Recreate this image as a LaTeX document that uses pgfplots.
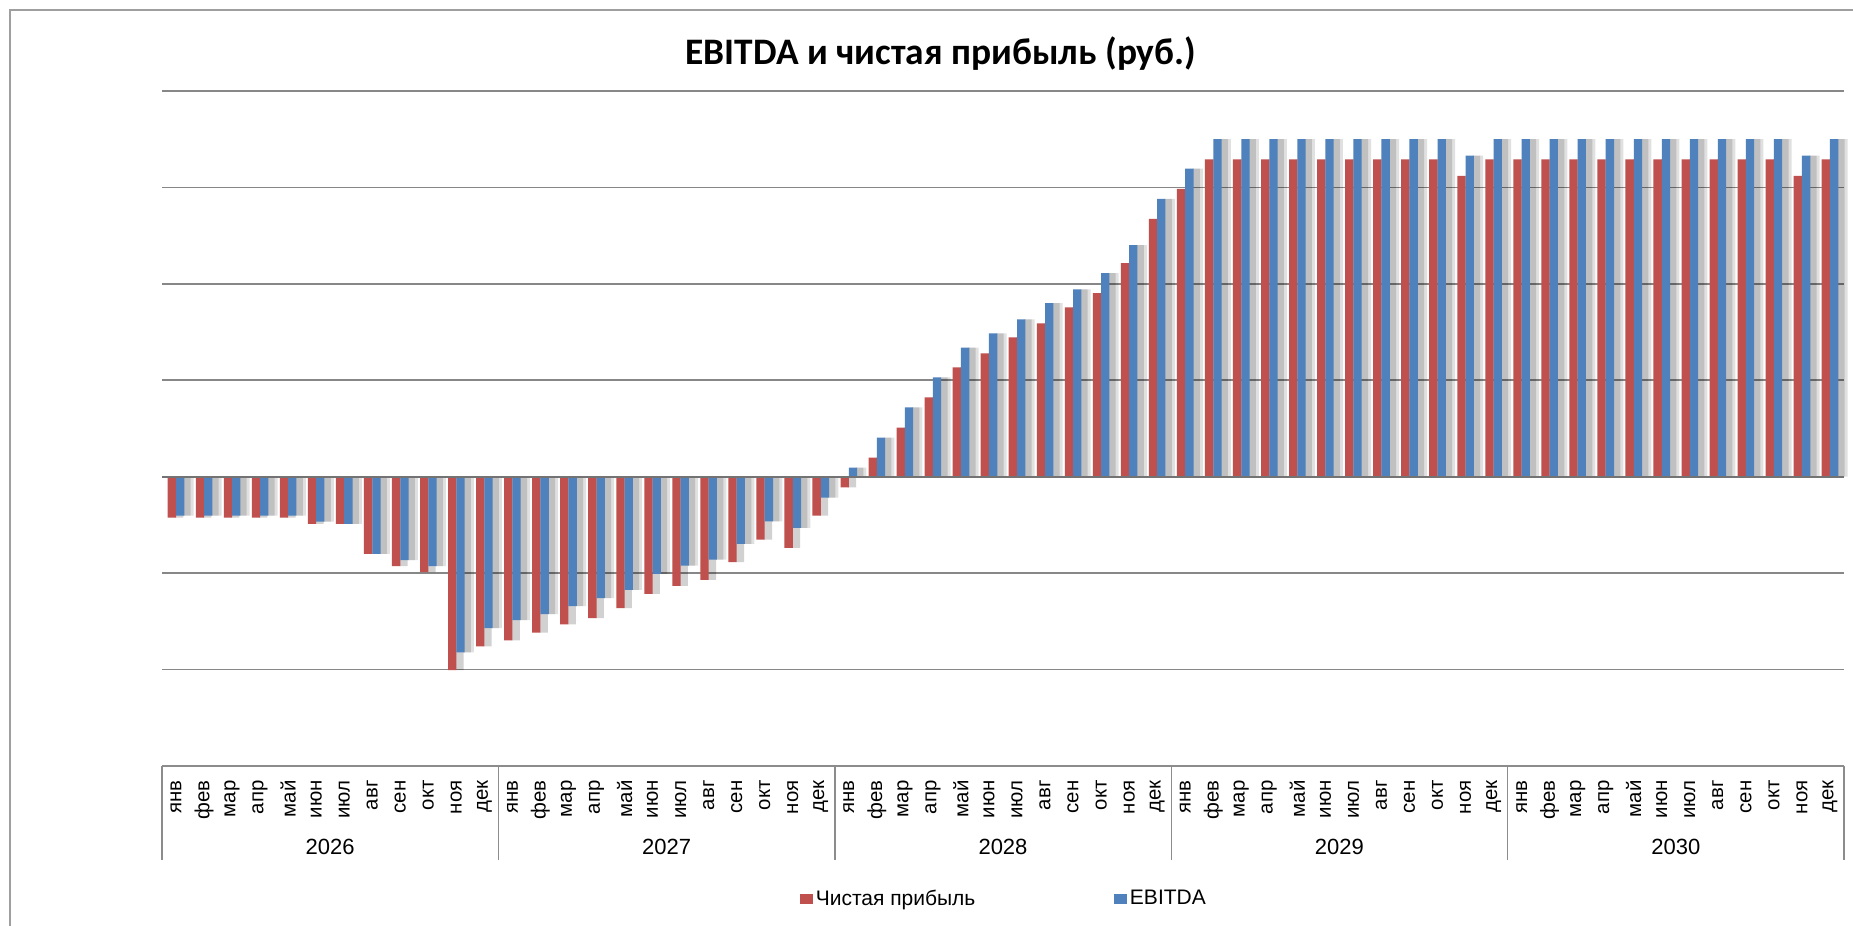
\documentclass[border=0pt]{standalone}
\usepackage{fontspec}
\setmainfont{Liberation Sans}
\newfontfamily\titlefont{Carlito}
\usepackage{pgfplots}
\usepackage{pgfplotstable}
\pgfplotsset{compat=1.18}
\definecolor{npred}{HTML}{C0504D}
\definecolor{ebblue}{HTML}{4F81BD}
\definecolor{gridgray}{HTML}{878787}
\definecolor{zerogray}{HTML}{737373}
\definecolor{sepgray}{HTML}{8C8C8C}

\pgfplotstableread{
x np eb
0 -0.425 -0.404
1 -0.425 -0.404
2 -0.425 -0.404
3 -0.425 -0.404
4 -0.425 -0.404
5 -0.488 -0.467
6 -0.488 -0.488
7 -0.801 -0.801
8 -0.927 -0.864
9 -0.990 -0.927
10 -2.007 -1.822
11 -1.760 -1.571
12 -1.697 -1.488
13 -1.617 -1.425
14 -1.530 -1.341
15 -1.467 -1.258
16 -1.362 -1.174
17 -1.216 -1.007
18 -1.132 -0.923
19 -1.070 -0.861
20 -0.885 -0.697
21 -0.652 -0.463
22 -0.739 -0.530
23 -0.404 -0.216
24 -0.111 0.094
25 0.198 0.406
26 0.510 0.719
27 0.823 1.031
28 1.135 1.340
29 1.278 1.486
30 1.444 1.632
31 1.590 1.799
32 1.757 1.944
33 1.903 2.111
34 2.215 2.403
35 2.674 2.882
36 2.986 3.194
37 3.290 3.500
38 3.290 3.500
39 3.290 3.500
40 3.290 3.500
41 3.290 3.500
42 3.290 3.500
43 3.290 3.500
44 3.290 3.500
45 3.290 3.500
46 3.120 3.330
47 3.290 3.500
48 3.290 3.500
49 3.290 3.500
50 3.290 3.500
51 3.290 3.500
52 3.290 3.500
53 3.290 3.500
54 3.290 3.500
55 3.290 3.500
56 3.290 3.500
57 3.290 3.500
58 3.120 3.330
59 3.290 3.500
}\datatable

\begin{document}
\begin{tikzpicture}
\useasboundingbox (0pt,0pt) rectangle (926.5pt,463pt);
\fill[white] (0pt,0pt) rectangle (926.5pt,463pt);
\draw[gray!75, line width=0.8pt] (5pt,-20pt) rectangle (960pt,458pt);
\node[font=\titlefont\bfseries\fontsize{18.7}{22}\selectfont] at (470.4pt,436pt) {EBITDA и чистая прибыль (руб.)};
\begin{axis}[
  at={(81pt,80pt)}, anchor=south west,
  scale only axis, width=841pt, height=337.5pt,
  xmin=-0.5, xmax=59.5, ymin=-3, ymax=4,
  clip=false,
  axis line style={draw=none},
  xtick={0,...,59},
  xticklabels={янв,фев,мар,апр,май,июн,июл,авг,сен,окт,ноя,дек,
               янв,фев,мар,апр,май,июн,июл,авг,сен,окт,ноя,дек,
               янв,фев,мар,апр,май,июн,июл,авг,сен,окт,ноя,дек,
               янв,фев,мар,апр,май,июн,июл,авг,сен,окт,ноя,дек,
               янв,фев,мар,апр,май,июн,июл,авг,сен,окт,ноя,дек},
  xticklabel style={rotate=90, anchor=east, inner sep=0pt, font=\fontsize{10.2}{12}\selectfont},
  xticklabel shift=7pt,
  ytick={-2,-1,0,1,2,3,4},
  yticklabels={},
  tick style={draw=none},
  major tick length=0pt,
  ymajorgrids,
  major grid style={gridgray, line width=0.8pt},
  legend columns=2,
  legend style={at={(0.5009,-0.197)}, anchor=center, draw=none, fill=none,
    font=\fontsize{10.5}{12}\selectfont,
    /tikz/every even column/.append style={column sep=68pt},
    nodes={inner sep=1.5pt}},
  legend image code/.code={\fill[#1] (0pt,-2.3pt) rectangle (6.3pt,2.3pt);},
]
% shadows
\addplot[ybar, bar width=4.15pt, bar shift=1.6pt, fill=black, fill opacity=0.18, draw=none, forget plot] table[x=x,y=np]{\datatable};
\addplot[ybar, bar width=5.2pt, bar shift=6.2pt, fill=black, fill opacity=0.12, draw=none, forget plot] table[x=x,y=eb]{\datatable};
\addplot[ybar, bar width=3.4pt, bar shift=5.6pt, fill=black, fill opacity=0.14, draw=none, forget plot] table[x=x,y=eb]{\datatable};
% bars
\addplot[ybar, bar width=4.15pt, bar shift=-2.075pt, fill=npred, draw=none] table[x=x,y=np]{\datatable};
\addlegendentry{Чистая прибыль}
\addplot[ybar, bar width=4.15pt, bar shift=2.075pt, fill=ebblue, draw=none] table[x=x,y=eb]{\datatable};
\addlegendentry{EBITDA}
\draw[zerogray, line width=0.9pt] (axis cs:-0.5,0) -- (axis cs:59.5,0);
\draw[sepgray, line width=0.7pt] (axis cs:-0.5,-3) -- (axis cs:59.5,-3);
\draw[sepgray, line width=0.7pt] (axis cs:-0.5,-3) -- ++(0pt,-47pt);
\draw[sepgray, line width=0.7pt] (axis cs:11.5,-3) -- ++(0pt,-47pt);
\draw[sepgray, line width=0.7pt] (axis cs:23.5,-3) -- ++(0pt,-47pt);
\draw[sepgray, line width=0.7pt] (axis cs:35.5,-3) -- ++(0pt,-47pt);
\draw[sepgray, line width=0.7pt] (axis cs:47.5,-3) -- ++(0pt,-47pt);
\draw[sepgray, line width=0.7pt] (axis cs:59.5,-3) -- ++(0pt,-47pt);
\node[font=\fontsize{11}{13}\selectfont, yshift=-40.25pt] at (axis cs:5.5,-3) {2026};
\node[font=\fontsize{11}{13}\selectfont, yshift=-40.25pt] at (axis cs:17.5,-3) {2027};
\node[font=\fontsize{11}{13}\selectfont, yshift=-40.25pt] at (axis cs:29.5,-3) {2028};
\node[font=\fontsize{11}{13}\selectfont, yshift=-40.25pt] at (axis cs:41.5,-3) {2029};
\node[font=\fontsize{11}{13}\selectfont, yshift=-40.25pt] at (axis cs:53.5,-3) {2030};
\end{axis}
\end{tikzpicture}
\end{document}
